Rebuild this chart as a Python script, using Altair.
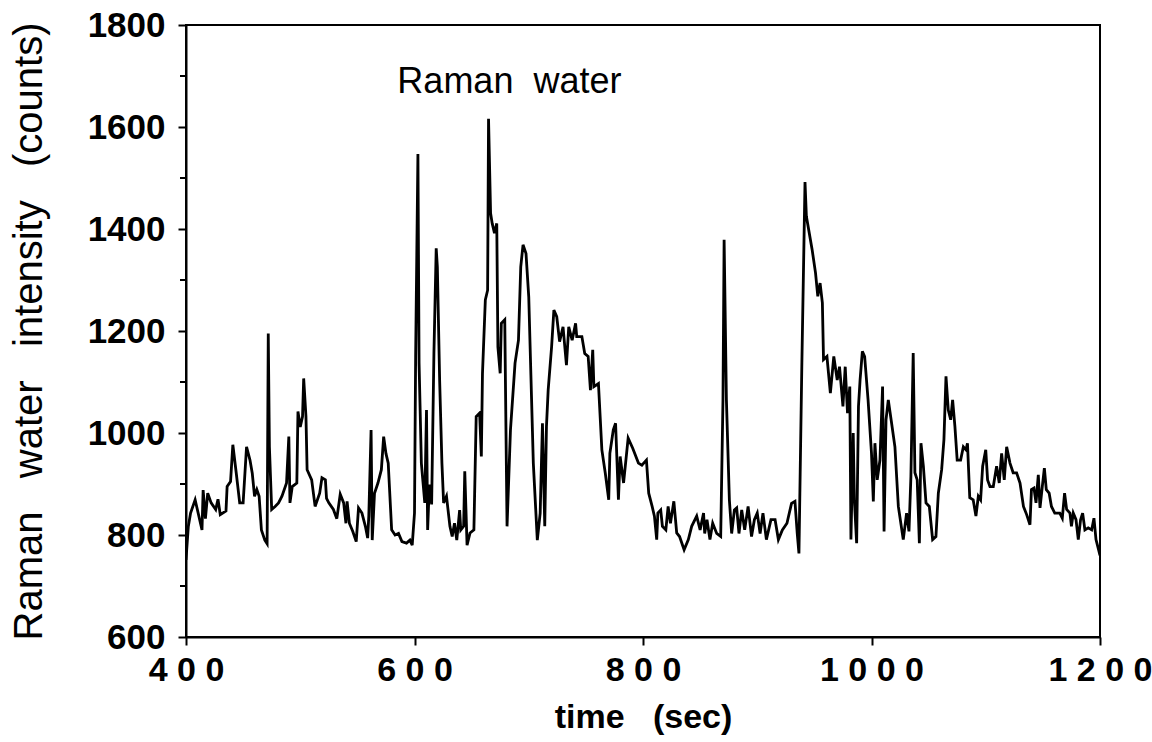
import altair as alt
import pandas as pd

time_sec = [
    400, 402, 404, 408, 414, 415, 417, 419, 422, 426, 428, 430, 435, 436, 439, 441, 444, 447, 450,
    453, 456, 458, 460, 462, 464, 466, 469, 471, 472, 473, 475, 478, 481, 484, 488, 490, 491,
    493, 497, 498, 500, 502, 503, 505, 506, 510, 513, 517, 519, 522, 523, 525, 529, 532, 535,
    538, 540, 541, 543, 546, 549, 551, 554, 557, 559, 560, 562, 563, 565, 568, 571, 573, 575,
    577, 580, 583, 586, 589, 593, 596, 598, 600, 601, 603, 604, 606, 609, 610.5, 611.5, 613,
    615, 617, 619, 620, 622, 624, 625.5, 628, 631, 633, 635, 637, 639.5, 640.5, 643, 644, 646,
    648.6, 652, 654, 657, 658.5, 659.5, 662, 664, 664.8, 666.6, 668, 670, 672, 673, 675, 676,
    679, 681, 684, 687, 688, 691, 693, 695, 697.6, 700, 702, 704, 707.5, 710, 712, 714, 715.5,
    717, 720, 722, 724.5, 727, 730, 733, 735, 738, 741, 742, 746.5, 749, 752, 754, 756, 757,
    761, 764, 767, 770, 771, 774, 776, 778.5, 780, 783, 787, 791, 796, 799, 803, 805, 808, 810,
    812, 813, 815.5, 817, 820, 822, 824, 827, 829.5, 832, 836, 839.7, 842.6, 847, 850, 853, 854,
    856, 858.6, 861, 864.5, 868, 870, 871, 873, 875.6, 877.6, 880, 882, 884, 886.4, 889, 892,
    895, 897.5, 900, 902.5, 905, 908, 912, 915.6, 918.5, 922, 926, 930, 933, 935, 936.5, 939,
    941.8, 943, 948, 951, 953, 955, 957, 958, 961, 964, 967, 970, 972, 975, 977, 979, 981, 982,
    984, 985, 987, 988.6, 990, 992, 994, 997, 1000, 1001.6, 1003, 1005, 1007.4, 1009.7, 1011,
    1012.7, 1014.7, 1017.6, 1020.5, 1023.5, 1027.8, 1030.7, 1032.8, 1034.5, 1036.5, 1038, 1040,
    1041.9, 1043.3, 1045.4, 1047.7, 1050.6, 1053.5, 1056.4, 1058.5, 1061.4, 1063.4, 1065.2,
    1067.2, 1069.3, 1071, 1073, 1075, 1078, 1080.4, 1082.7, 1084, 1086, 1089, 1091.4, 1093.5,
    1095.5, 1097.3, 1100, 1101.6, 1103.7, 1106.6, 1109.5, 1111.8, 1113.9, 1116.2, 1118.3,
    1121.2, 1124, 1127, 1130, 1133, 1135.8, 1138.7, 1140, 1142.2, 1144, 1146, 1147.5, 1149.5,
    1151.3, 1153, 1155.5, 1157.5, 1160.4, 1164.8, 1167, 1169, 1170.8, 1173.7, 1175, 1176.6,
    1179, 1181, 1183, 1184.8, 1186.8, 1189.7, 1192.7, 1194.7, 1196.5, 1198.8, 1200,
]

intensity = [
    751, 816, 843, 869, 810, 888, 832, 882, 863, 850, 870, 840, 847, 895, 905, 977, 921, 863, 863,
    973, 947, 921, 876, 889, 876, 810, 790, 783, 1195, 973, 850, 856, 863, 876, 902, 993, 863,
    895, 902, 1042, 1012, 1032, 1107, 1032, 928, 908, 856, 882, 912, 908, 872, 863, 850, 832, 880,
    863, 823, 866, 823, 807, 787, 853, 843, 817, 794, 837, 1006, 790, 882, 902, 928, 993, 960,
    941, 810, 800, 803, 787, 784, 790, 780, 843, 1150, 1547, 1137, 941, 863, 1045, 810, 899,
    860, 1156, 1362, 1326, 1104, 941, 863, 876, 817, 797, 823, 790, 849, 810, 817, 925, 780,
    804, 810, 1032, 1039, 954, 1117, 1261, 1280, 1616, 1431, 1411, 1392, 1411, 1169, 1117, 1215,
    1222, 817, 1006, 1104, 1137, 1182, 1326, 1369, 1352, 1267, 1104, 941, 790, 843, 1019, 817, 1013,
    1084, 1169, 1241, 1228, 1179, 1208, 1133, 1208, 1182, 1215, 1189, 1189, 1156, 1150, 1084, 1163, 1091,
    1097, 967, 921, 869, 960, 1006, 1019, 869, 954, 902, 990, 970, 941, 937, 947, 882, 856, 837,
    791, 843, 849, 817, 810, 856, 823, 866, 804, 797, 771, 791, 817, 837, 810, 843, 803,
    830, 791, 823, 803, 797, 1065, 1379, 1065, 869, 803, 849, 853, 803, 849, 810, 856,
    797, 830, 843, 803, 843, 791, 830, 830, 791, 810, 823, 862, 866, 803, 764, 1130,
    1492, 1425, 1360, 1314, 1268, 1294, 1255, 1144, 1150, 1078, 1150, 1104, 1130, 1052, 1130, 1039, 1091, 791,
    1000, 869, 784, 1052, 1104, 1160, 1150, 1065, 960, 866, 980, 908, 947, 1091, 807,
    1026, 1065, 1019, 973, 856, 791, 843, 807, 915, 1157, 922, 908,
    784, 980, 935, 863, 856, 791, 797, 882, 928, 987, 1111,
    1045, 1026, 1065, 1013, 947, 947, 973, 967, 980, 873, 869, 837, 876,
    869, 935, 967, 908, 895, 895, 935, 902, 960, 908, 973,
    941, 922, 922, 902, 856, 840, 820, 889, 892, 863, 918, 853, 895,
    931, 889, 882, 856, 843, 843, 833, 882, 850, 843, 817, 843,
    830, 791, 830, 843, 810, 814, 810, 833, 791, 771, 760,
]

y_major = [600, 800, 1000, 1200, 1400, 1600, 1800]
y_minor = [700, 900, 1100, 1300, 1500, 1700]
x_major = [400, 600, 800, 1000, 1200]

annotation_text = ["Raman\u00a0 water"]
annotation_t = [585]
annotation_v = [1688]

FONT = "Liberation Sans"

df = pd.DataFrame({"t": time_sec, "v": intensity})
minor_df = pd.DataFrame({"v": y_minor})
ann_df = pd.DataFrame({"label": annotation_text, "t": annotation_t, "v": annotation_v})

x_scale = alt.Scale(domain=[400, 1200], nice=False, zero=False)
y_scale = alt.Scale(domain=[600, 1800], nice=False, zero=False)

line = alt.Chart(df).mark_line(color="black", strokeWidth=2.8, clip=True).encode(
    x=alt.X(
        "t:Q",
        scale=x_scale,
        axis=alt.Axis(
            title="time\u00a0\u00a0 (sec)",
            values=x_major,
            format="d",
            labelExpr="join(split(datum.label, ''), '\u00a0')",
            labelFont=FONT,
            labelFontSize=34,
            labelFontWeight="bold",
            labelColor="black",
            labelPadding=8,
            labelFlush=False,
            tickSize=8,
            tickWidth=2,
            tickColor="black",
            domainColor="black",
            domainWidth=2,
            grid=False,
            titleFont=FONT,
            titleFontSize=34,
            titleFontWeight="bold",
            titleColor="black",
            titlePadding=13,
        ),
    ),
    y=alt.Y(
        "v:Q",
        scale=y_scale,
        axis=alt.Axis(
            title="Raman\u00a0\u00a0 water\u00a0\u00a0 intensity\u00a0\u00a0 (counts)",
            values=y_major,
            format="d",
            labelFont=FONT,
            labelFontSize=35,
            labelFontWeight="bold",
            labelColor="black",
            labelPadding=13,
            labelFlush=False,
            tickSize=8,
            tickWidth=2,
            tickColor="black",
            domainColor="black",
            domainWidth=2,
            grid=False,
            titleFont=FONT,
            titleFontSize=40,
            titleFontWeight="normal",
            titleColor="black",
            titlePadding=38,
        ),
    ),
)

minor = alt.Chart(minor_df).mark_rule(color="black", strokeWidth=2, clip=False).encode(
    y=alt.Y("v:Q", scale=y_scale),
    x=alt.value(-6),
    x2=alt.value(0),
)

ann = alt.Chart(ann_df).mark_text(
    align="left", baseline="middle", font=FONT, fontSize=36, color="black"
).encode(
    x=alt.X("t:Q", scale=x_scale),
    y=alt.Y("v:Q", scale=y_scale),
    text="label:N",
)

chart = (
    alt.layer(line, ann, minor)
    .properties(
        width=914,
        height=612,
        padding={"left": 186, "top": 25, "right": 52, "bottom": 105},
        autosize=alt.AutoSizeParams(type="none"),
        background="white",
    )
    .configure_view(stroke="black", strokeWidth=2)
)

chart.save("out.html", embed_options={"renderer": "svg", "actions": False})
